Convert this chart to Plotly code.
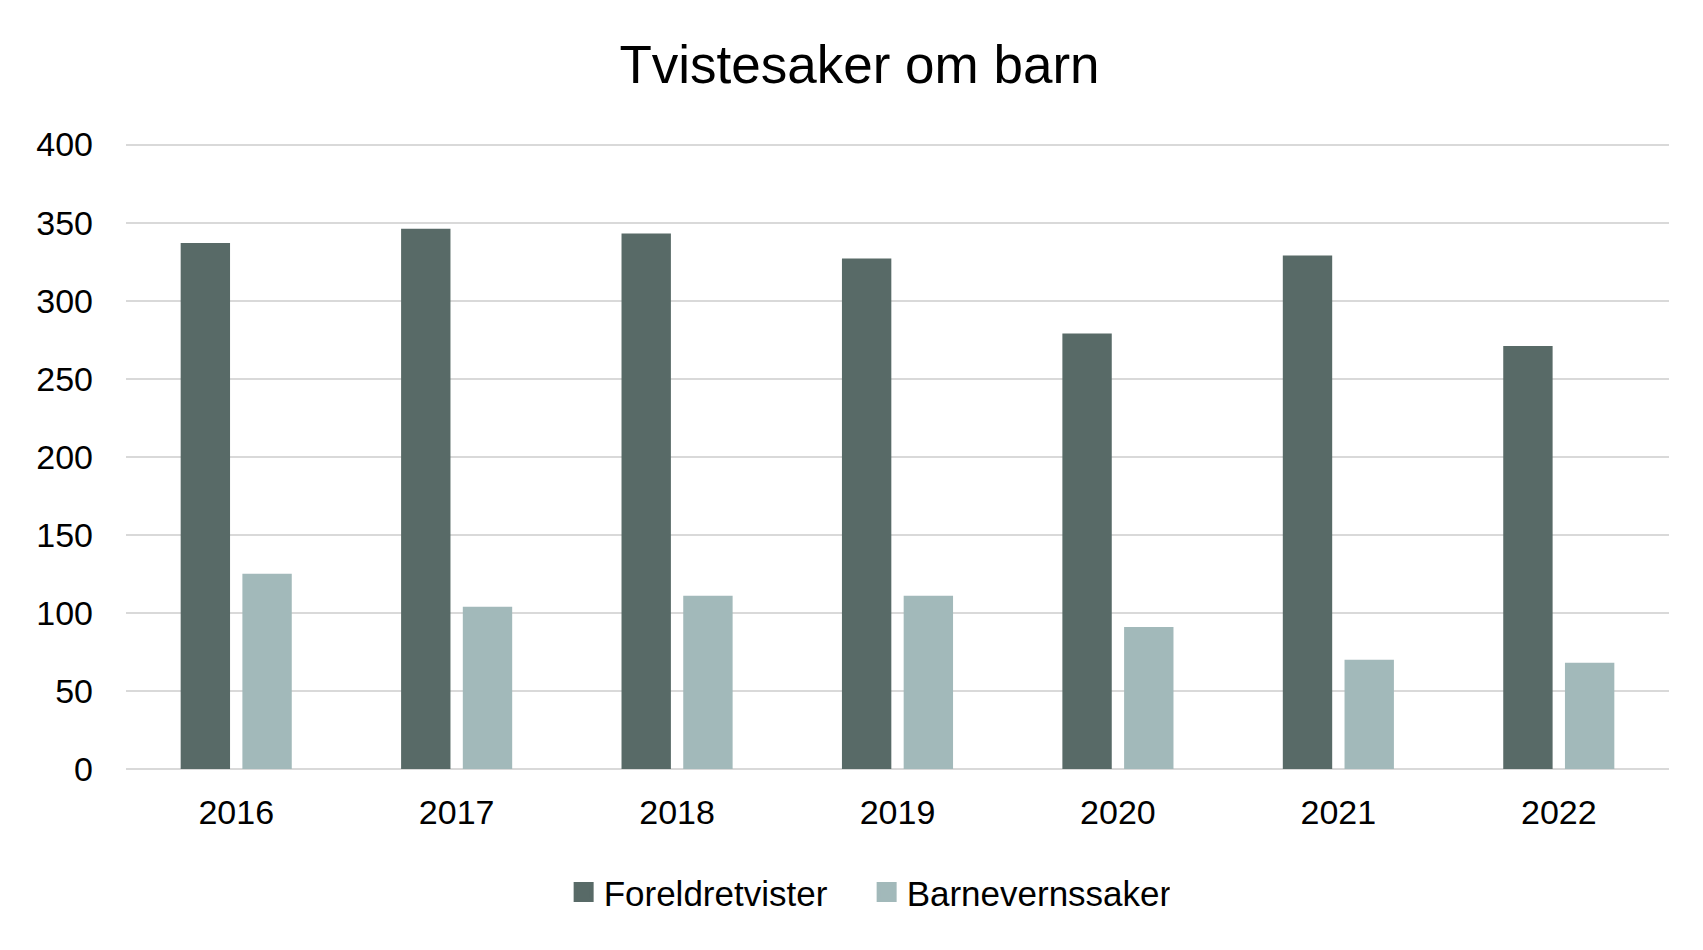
import plotly.graph_objects as go

years = ["2016", "2017", "2018", "2019", "2020", "2021", "2022"]
foreldretvister = [337, 346, 343, 327, 279, 329, 271]
barnevernssaker = [125, 104, 111, 111, 91, 70, 68]
y_ticks = [0, 50, 100, 150, 200, 250, 300, 350, 400]
series_names = ["Foreldretvister", "Barnevernssaker"]
series_colors = ["#586a67", "#a2b9ba"]

W, H = 1703, 950
ML, MR, MT, MB = 118, 42, 135, 189
FONT = "Liberation Sans, Arial, sans-serif"

fig = go.Figure()
for vals, name, col in zip([foreldretvister, barnevernssaker], series_names, series_colors):
    fig.add_trace(go.Bar(x=years, y=vals, name=name, showlegend=False,
                         marker=dict(color=col, line=dict(width=0))))
# legend entries (square swatches)
for name, col in zip(series_names, series_colors):
    fig.add_trace(go.Scatter(x=[None], y=[None], mode="markers", name=name,
                             marker=dict(symbol="square", size=16, color=col,
                                         line=dict(width=4, color=col))))

fig.update_layout(
    width=W, height=H,
    margin=dict(l=ML, r=MR, t=MT, b=MB),
    paper_bgcolor="white", plot_bgcolor="white",
    font=dict(family=FONT, color="#000000", size=34),
    title=dict(text="Tvistesaker om barn", x=0.5, xanchor="center", xref="container",
               y=1 - 56 / H, yanchor="middle", yref="container",
               font=dict(size=53, family=FONT, color="#000000")),
    barmode="group", bargap=0.44, bargroupgap=0.2,
    showlegend=True,
    legend=dict(orientation="h", x=0.48, xanchor="center", y=-0.197, yanchor="middle",
                font=dict(size=35, family=FONT), itemwidth=30, traceorder="normal",
                entrywidth=258, entrywidthmode="pixels"),
    xaxis=dict(showgrid=False, showline=False, zeroline=False, ticks="",
               tickfont=dict(size=34), ticklabelstandoff=20),
    yaxis=dict(range=[0, 401], tickvals=y_ticks, showgrid=True, gridcolor="#d9d9d9",
               gridwidth=2, zeroline=True, zerolinecolor="#d9d9d9", zerolinewidth=2,
               showline=False, ticks="", tickfont=dict(size=34), ticklabelstandoff=32),
)

fig.write_html("out.html")
